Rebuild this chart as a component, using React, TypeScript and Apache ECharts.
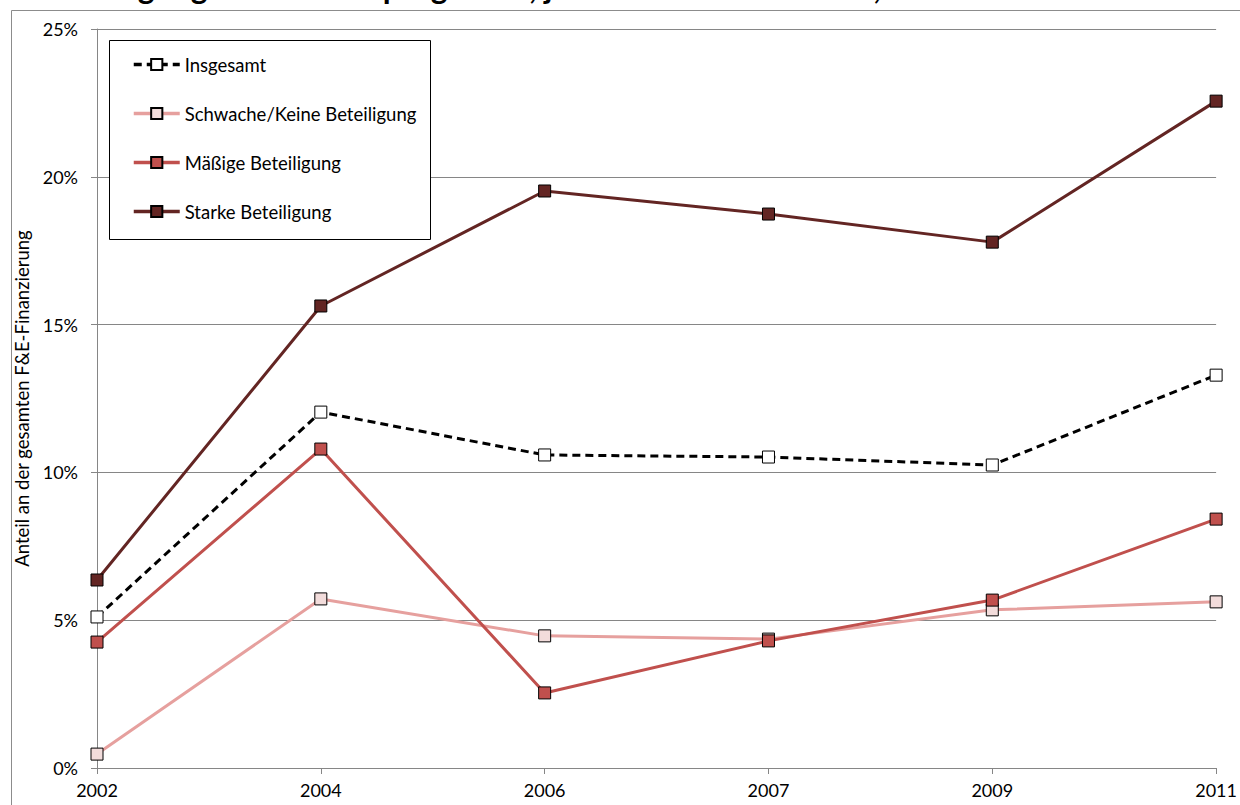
import React, { useEffect, useRef } from "react";
import * as echarts from "echarts";

const years = ["2002", "2004", "2006", "2007", "2009", "2011"];
const insgesamt = [5.11, 12.04, 10.59, 10.52, 10.25, 13.29];
const schwache = [0.47, 5.72, 4.47, 4.36, 5.35, 5.62];
const maessige = [4.26, 10.79, 2.54, 4.3, 5.68, 8.42];
const starke = [6.36, 15.63, 19.52, 18.74, 17.79, 22.56];
const seriesNames = [
  "Insgesamt",
  "Schwache/Keine Beteiligung",
  "Mäßige Beteiligung",
  "Starke Beteiligung",
];
const yTicks = [0, 5, 10, 15, 20, 25];
const titleText = "Beteiligung am Rahmenprogramm, je Stärke der Teilnahme, 2002–2011";
const yAxisTitle = "Anteil an der gesamten F&E-Finanzierung";

const FONT = "Lato, 'Open Sans', sans-serif";

export default function App() {
  const ref = useRef<HTMLDivElement>(null);
  useEffect(() => {
    if (!ref.current) return;
    const chart = echarts.init(ref.current, null, { renderer: "svg" });
    const mk = (
      name: string,
      data: number[],
      lineColor: string,
      fill: string,
      dashed: boolean
    ) => ({
      name,
      type: "line",
      data,
      symbol: "rect",
      symbolSize: 12,
      showSymbol: true,
      lineStyle: {
        color: lineColor,
        width: 3,
        type: dashed ? [8, 5] : "solid",
      },
      itemStyle: { color: fill, borderColor: "#000", borderWidth: 1 },
      emphasis: { disabled: true },
    });
    chart.setOption({
      animation: false,
      textStyle: { fontFamily: FONT },
      grid: { left: 97, right: 21, top: 29, bottom: 37 },
      graphic: [
        {
          type: "rect",
          shape: { x: 11.5, y: 10.5, width: 1400, height: 1000 },
          style: { fill: "none", stroke: "#8c8c8c", lineWidth: 1 },
          silent: true,
          z: -10,
        },
        {
          type: "text",
          x: 47,
          y: 2,
          style: {
            text: titleText,
            fill: "#000",
            font: "bold 32px " + FONT,
            textVerticalAlign: "bottom",
          },
          silent: true,
        },
        {
          type: "rect",
          shape: { x: 109.5, y: 40.5, width: 321, height: 199 },
          style: { fill: "#fff", stroke: "#000", lineWidth: 1 },
          silent: true,
          z: 50,
        },
      ],
      legend: {
        orient: "vertical",
        left: 127,
        top: 50,
        itemWidth: 46,
        itemHeight: 14,
        itemGap: 30,
        z: 60,
        data: seriesNames,
        lineStyle: { width: 3.5 },
        textStyle: { fontFamily: FONT, fontSize: 18.5, color: "#000" },
        selectedMode: false,
      },
      xAxis: {
        type: "category",
        data: years,
        boundaryGap: false,
        axisLine: { lineStyle: { color: "#868686", width: 1 } },
        axisTick: { show: true, alignWithLabel: true, length: 6, lineStyle: { color: "#868686" } },
        axisLabel: { color: "#000", fontSize: 18, fontFamily: FONT, margin: 13 },
      },
      yAxis: {
        type: "value",
        min: 0,
        max: 25,
        interval: 5,
        name: yAxisTitle,
        nameLocation: "middle",
        nameGap: 52,
        nameTextStyle: { color: "#000", fontSize: 18.5, fontFamily: FONT },
        axisLine: { show: true, lineStyle: { color: "#868686", width: 1 } },
        axisTick: { show: true, length: 6, lineStyle: { color: "#868686" } },
        axisLabel: {
          color: "#000",
          fontSize: 18,
          fontFamily: FONT,
          margin: 19,
          formatter: (v: number) => (yTicks.includes(v) ? v + "%" : ""),
        },
        splitLine: { lineStyle: { color: "#868686", width: 1 } },
      },
      series: [
        mk(seriesNames[0], insgesamt, "#000000", "#ffffff", true),
        mk(seriesNames[1], schwache, "#E6A09E", "#F2DCDB", false),
        mk(seriesNames[2], maessige, "#C0504D", "#C0504D", false),
        mk(seriesNames[3], starke, "#632523", "#632523", false),
      ],
    });
    return () => chart.dispose();
  }, []);
  return (
    <div
      ref={ref}
      style={{ position: "absolute", left: 0, top: 0, width: 1240, height: 805, background: "#fff" }}
    />
  );
}
